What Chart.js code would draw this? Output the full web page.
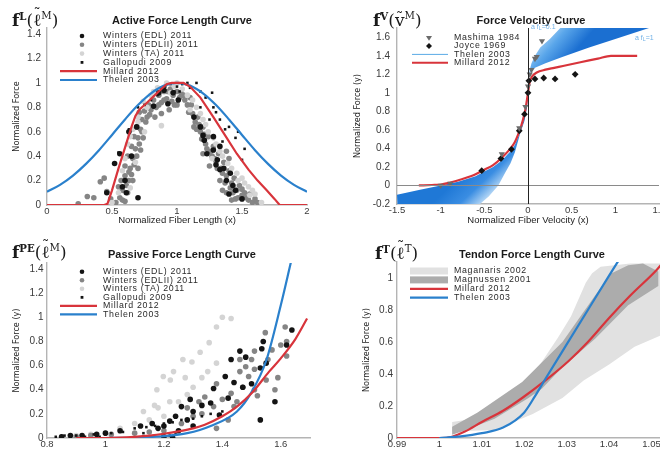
<!DOCTYPE html>
<html>
<head>
<meta charset="utf-8">
<script src="https://cdn.jsdelivr.net/npm/chart.js@4.4.1/dist/chart.umd.min.js"></script>
<style>
  html, body { margin: 0; padding: 0; background: #fff; }
  #fig { position: relative; width: 660px; height: 450px; overflow: hidden; }
  .panel { position: absolute; width: 330px; height: 225px; overflow: hidden; }
  .panel canvas { position: absolute; left: 0; top: 0; }
  .ttl { position: absolute; font: bold 11px 'Liberation Sans', Arial, sans-serif; color: #1a1a1a;
         transform: translate(-50%, -50%); white-space: nowrap; }
  .math { position: absolute; font: 17px 'DejaVu Serif', 'Liberation Serif', serif; color: #1a1a1a;
          transform: translateY(-50%); white-space: nowrap; line-height: 1; }
  .math sup { font-size: 0.6em; vertical-align: 0.6em; line-height: 0; }
  .acc { position: relative; display: inline-block; }
  .acc i { position: absolute; left: 0; right: 0; top: -0.36em; text-align: center; font-style: normal; font-size: 0.85em; }
  .acc.low i { top: -0.1em; }
  .note { position: absolute; font: 7px 'Liberation Sans', Arial, sans-serif; color: #6fb0e6;
          white-space: nowrap; transform: translateY(-50%); }
  .note sub { font-size: 0.75em; vertical-align: -0.2em; }
</style>
</head>
<body>
<div id="fig">
  <div class="panel" style="left:0;top:0"><canvas id="cActive" width="330" height="225"></canvas></div>
  <div class="panel" style="left:330px;top:0"><canvas id="cVelocity" width="360" height="225"></canvas></div>
  <div class="panel" style="left:0;top:225px"><canvas id="cPassive" width="330" height="225"></canvas></div>
  <div class="panel" style="left:330px;top:225px"><canvas id="cTendon" width="360" height="225"></canvas></div>

  <div class="math" style="left:12px;top:20px"><b>f</b><sup><b>L</b></sup>(<span class="acc">&#x2113;<i>&#x2DC;</i></span><sup>M</sup>)</div>
  <div class="ttl" style="left:182px;top:20px">Active Force Length Curve</div>

  <div class="math" style="left:373px;top:20px"><b>f</b><sup><b>V</b></sup>(<span class="acc low">v<i>&#x2DC;</i></span><sup>M</sup>)</div>
  <div class="ttl" style="left:531px;top:20px">Force Velocity Curve</div>
  <div class="note" style="left:531px;top:27px">a f<sub>L</sub>=0.1</div>
  <div class="note" style="left:635px;top:38px">a f<sub>L</sub>=1</div>

  <div class="math" style="left:12px;top:252px"><b>f</b><sup><b>PE</b></sup>(<span class="acc">&#x2113;<i>&#x2DC;</i></span><sup>M</sup>)</div>
  <div class="ttl" style="left:182px;top:254px">Passive Force Length Curve</div>

  <div class="math" style="left:375px;top:253px"><b>f</b><sup><b>T</b></sup>(<span class="acc">&#x2113;<i>&#x2DC;</i></span><sup>T</sup>)</div>
  <div class="ttl" style="left:532px;top:254px">Tendon Force Length Curve</div>
</div>

<script>
// ---------- Active force-length (normalized fiber length, normalized force) ----------
const flXTicks = [0, 0.5, 1, 1.5, 2];
const flYTicks = [0, 0.2, 0.4, 0.6, 0.8, 1, 1.2, 1.4];
const flMillard = [[0,0],[0.44,0],[0.465,0.01],[0.5,0.12],[0.55,0.3],[0.6,0.47],[0.65,0.64],[0.68,0.73],[0.71,0.78],
  [0.76,0.83],[0.82,0.89],[0.88,0.95],[0.92,0.99],[0.96,1],[1.05,1],[1.1,0.97],[1.18,0.88],[1.28,0.72],[1.37,0.57],
  [1.46,0.42],[1.55,0.29],[1.62,0.2],[1.69,0.12],[1.75,0.05],[1.79,0],[2,0]];
const flThelen = [[0,0.108],[0.1,0.165],[0.2,0.241],[0.3,0.337],[0.4,0.449],[0.5,0.574],[0.6,0.701],[0.7,0.819],
  [0.8,0.915],[0.9,0.978],[1,1],[1.1,0.978],[1.2,0.915],[1.3,0.819],[1.4,0.701],[1.5,0.574],[1.6,0.449],[1.7,0.337],
  [1.8,0.241],[1.9,0.165],[2,0.108]];
const flEDL = [[0.46,0.1],[0.52,0.34],[0.56,0.42],[0.6,0.2],[0.61,0.1],[0.63,0.6],[0.65,0.4],[0.69,0.64],[0.7,0.06],
  [0.58,0.15],[0.82,0.81],[0.86,0.92],[0.9,0.94],[0.93,0.83],[0.97,0.92],[1.01,0.86],[1.13,0.72],[1.18,0.64],[1.2,0.57],
  [1.21,0.53],[1.23,0.42],[1.28,0.56],[1.28,0.45],[1.31,0.37],[1.3,0.33],[1.33,0.48],[1.33,0.29],[1.36,0.3],[1.38,0.2],
  [1.41,0.26],[1.43,0.16],[1.45,0.12],[1.4,0.09],[1.5,0.05]];
const flEDLII = [[0.24,0.01],[0.31,0.07],[0.36,0.06],[0.41,0.19],[0.46,0.11],[0.44,0.22],[0.49,0.05],
  [0.53,0.02],[0.56,0.06],[0.6,0.03],[0.58,0.12],[0.62,0.1],[0.57,0.2],[0.6,0.24],[0.63,0.2],[0.6,0.32],[0.64,0.3],
  [0.62,0.4],[0.66,0.38],[0.65,0.48],[0.68,0.46],[0.67,0.56],[0.7,0.55],[0.69,0.64],[0.72,0.62],[0.73,0.7],[0.71,0.76],
  [0.75,0.77],[0.77,0.72],[0.78,0.82],[0.8,0.78],[0.82,0.86],[0.84,0.8],[0.86,0.9],[0.88,0.84],[0.9,0.93],[0.92,0.87],
  [0.95,0.95],[0.97,0.9],[1,0.93],[0.98,0.82],[1.02,0.88],[0.94,0.78],[0.88,0.75],[0.66,0.2],[0.7,0.3],[0.72,0.45],
  [0.74,0.55],[1.05,0.9],[1.08,0.82],[1.1,0.88],[1.12,0.75],[1.14,0.68],[1.16,0.72],[1.18,0.6],[1.2,0.64],[1.22,0.5],
  [1.24,0.56],[1.26,0.44],[1.28,0.48],[1.3,0.36],[1.32,0.42],[1.34,0.3],[1.36,0.35],[1.38,0.24],[1.4,0.28],[1.42,0.18],
  [1.44,0.22],[1.46,0.12],[1.48,0.16],[1.5,0.08],[1.52,0.1],[1.55,0.04],[1.58,0.02],[1.6,0.05],[1.45,0.05],[1.38,0.1],
  [1.33,0.2],[1.25,0.32],[1.2,0.42],[1.38,0.44],[1.4,0.38],[1.35,0.12],[1.42,0.04],
  [0.55,0.15],[0.58,0.04],[0.61,0.16],[0.63,0.27],[0.65,0.25],[0.67,0.33],[0.69,0.4],[0.71,0.5],[0.73,0.6],[0.76,0.68],
  [0.79,0.74],[0.83,0.72],[0.86,0.82],[0.9,0.86],[0.93,0.93],[0.96,0.85],[1,0.82],[1.03,0.92],[1.06,0.86],[1.09,0.76],
  [1.11,0.82],[1.13,0.64],[1.15,0.62],[1.17,0.66],[1.19,0.54],[1.21,0.58],[1.23,0.46],[1.27,0.4],[1.29,0.38],[1.31,0.3],
  [1.35,0.26],[1.37,0.18],[1.41,0.14],[1.43,0.1],[1.47,0.06],[1.5,0.13],[1.53,0.06],[1.56,0.09],[1.62,0.02]];
const flTA = [[0.55,0.1],[0.58,0.28],[0.62,0.5],[0.66,0.62],[0.7,0.72],[0.74,0.85],[0.8,0.9],[0.85,0.96],[0.92,1],
  [0.98,0.97],[1.04,0.95],[1.08,0.9],[1.1,0.78],[1.15,0.8],[1.2,0.7],[1.24,0.6],[1.3,0.5],[1.35,0.4],[1.42,0.3],
  [1.5,0.22],[1.55,0.15],[1.6,0.09],[1.65,0.02],[0.68,0.35],[0.75,0.6],[0.88,0.65],[0.5,0.02],[0.64,0.14],[1.27,0.38],
  [1.47,0.2],[1.56,0.08],[0.6,0.38],[0.64,0.56],[0.7,0.68],[0.77,0.8],[0.82,0.93],[0.95,0.92],[1,1],[1.12,0.86],
  [1.18,0.75],[1.22,0.66],[1.28,0.55],[1.33,0.44],[1.39,0.34],[1.46,0.26],[1.52,0.18],[1.58,0.12]];
const flGallopudi = [[0.85,0.9],[0.88,0.95],[0.91,0.97],[0.95,0.99],[0.98,0.93],[1,0.97],[1.04,0.99],[1.08,1],[1.1,0.96],
  [1.15,1],[1.18,0.93],[1.18,0.8],[1.22,0.88],[1.27,0.92],[1.28,0.8],[1.3,0.76],[1.33,0.7],[1.37,0.62],[1.4,0.64],
  [1.47,0.6],[1.45,0.55],[1.5,0.37],[1.52,0.46],[1.35,0.52],[1.25,0.7],[0.8,0.86],[0.75,0.82],[0.7,0.8],[0.63,0.62],
  [0.55,0.43],[1.02,0.93]];

// ---------- Force-velocity (normalized fiber velocity, normalized force) ----------
const fvXTicks = [-1.5, -1, -0.5, 0, 0.5, 1, 1.5];
const fvYTicks = [-0.2, 0, 0.2, 0.4, 0.6, 0.8, 1, 1.2, 1.4, 1.6];
const fvMillard = [[-1.25,0],[-1.1,0.005],[-1,0.01],[-0.9,0.03],[-0.75,0.07],[-0.6,0.12],[-0.5,0.17],[-0.4,0.22],
  [-0.3,0.3],[-0.2,0.4],[-0.15,0.47],[-0.1,0.58],[-0.06,0.7],[-0.03,0.82],[0,1],[0.02,1.12],[0.05,1.18],[0.1,1.22],
  [0.2,1.25],[0.3,1.27],[0.4,1.29],[0.6,1.33],[0.8,1.37],[0.95,1.4],[1.25,1.4]];
const fvMashima = [[-1,0],[-0.89,0.02],[-0.3,0.34],[-0.1,0.62],[-0.03,0.85],[0,1.07],[0.02,1.2],[0.04,1.25],
  [0.08,1.37],[0.1,1.39],[0.16,1.56]];
const fvJoyce = [[-0.53,0.16],[-0.31,0.29],[-0.19,0.39],[-0.1,0.59],[-0.04,0.77],[0,1],[0.01,1.13],[0.08,1.15],
  [0.18,1.16],[0.31,1.15],[0.54,1.2]];
// Thelen family for a*fL between 0.1 and 1, shortening side (x < 0) and lengthening side (x > 0)
const fvThelenShortening = [[-1.5,-0.1],[-1.25,-0.05],[-1,0],[-0.8,0.04],[-0.6,0.1],[-0.5,0.15],[-0.4,0.2],[-0.3,0.27],
  [-0.2,0.37],[-0.15,0.44],[-0.1,0.55],[-0.06,0.67],[-0.03,0.8],[0,1],[-0.01,0.85],[-0.04,0.7],[-0.09,0.56],
  [-0.15,0.36],[-0.2,0.24],[-0.26,0.14],[-0.34,0],[-0.45,-0.12],[-0.55,-0.2],[-0.7,-0.3],[-1.49,-0.3]];
const fvThelenLengthening = [[0,1.05],[0.01,1.17],[0.03,1.23],[0.08,1.27],[0.2,1.32],[0.4,1.39],[0.7,1.49],[1,1.58],
  [1.45,1.72],[1.6,1.8],[0.45,1.8],[0.37,1.7],[0.25,1.58],[0.14,1.49],[0.08,1.4],[0.04,1.32],[0.02,1.25],[0.005,1.1]];

// ---------- Passive force-length ----------
const pfXTicks = [0.8, 1, 1.2, 1.4, 1.6];
const pfYTicks = [0, 0.2, 0.4, 0.6, 0.8, 1, 1.2, 1.4];
const pfMillard = [[0.9,0],[1,0],[1.05,0.003],[1.1,0.01],[1.15,0.02],[1.2,0.035],[1.25,0.055],[1.3,0.08],[1.34,0.11],
  [1.4,0.18],[1.45,0.26],[1.5,0.37],[1.56,0.55],[1.6,0.66],[1.65,0.82],[1.69,0.99]];
const pfThelen = [[1,0],[1.08,0.002],[1.15,0.008],[1.2,0.015],[1.28,0.04],[1.36,0.1],[1.45,0.22],[1.5,0.38],
  [1.55,0.64],[1.6,1.1],[1.635,1.46]];
const pfEDL = [[1.638,0.895],[1.62,0.77],[1.535,0.74],[1.54,0.8],[1.48,0.67],[1.46,0.72],[1.43,0.65],[1.53,0.58],
  [1.41,0.51],[1.37,0.41],[1.47,0.42],[1.36,0.29],[1.29,0.32],[1.26,0.26],[1.3,0.22],[1.39,0.19],[1.24,0.18],[1.2,0.1],
  [1.22,0.14],[1.28,0.15],[1.16,0.12],[1.12,0.1],[1.05,0.06],[1,0.04],[0.97,0.03],[0.92,0.02],[0.88,0.02],[0.85,0.01],
  [1.18,0.08],[1.25,0.06],[1.3,0.1],[1.2,0.01],[1.23,0],[1.33,0.27],[1.42,0.33],[1.5,0.45],[1.44,0.46],[1.55,0.62],
  [1.53,0.15],[1.58,0.3]];
const pfEDLII = [[1.615,0.92],[1.547,0.873],[1.62,0.8],[1.6,0.77],[1.57,0.73],[1.62,0.68],[1.51,0.72],[1.556,0.65],
  [1.5,0.65],[1.48,0.59],[1.46,0.55],[1.51,0.57],[1.49,0.51],[1.59,0.5],[1.55,0.48],[1.47,0.42],[1.51,0.4],[1.43,0.37],
  [1.4,0.32],[1.44,0.26],[1.37,0.26],[1.33,0.2],[1.3,0.18],[1.26,0.12],[1.34,0.34],[1.38,0.45],[1.46,0.65],[1.38,0.08],
  [1.42,0.15],[1.2,0.06],[1.15,0.05],[1.1,0.04],[0.9,0.01],[0.95,0.02],[1.02,0.03],[1.28,0.25],[1.32,0.3],[1.45,0.3],
  [1.52,0.35],[1.58,0.4]];
const pfTA = [[1.4,1],[1.43,0.99],[1.38,0.92],[1.355,0.79],[1.324,0.71],[1.296,0.63],[1.265,0.65],[1.273,0.5],
  [1.233,0.55],[1.222,0.48],[1.198,0.51],[1.176,0.4],[1.168,0.27],[1.13,0.22],[1.1,0.12],[1.05,0.08],[1,0.04],
  [0.95,0.03],[0.9,0.02],[0.85,0.01],[1.15,0.15],[1.2,0.18],[1.25,0.3],[1.3,0.42],[1.35,0.55],[1.28,0.36],[1.22,0.3],
  [1.18,0.25],[1.38,0.62],[1.33,0.5]];
const pfGallopudi = [[0.83,0.01],[0.86,0.02],[0.9,0.02],[0.93,0.01],[0.96,0.03],[1,0.03],[1.02,0.04],[1.06,0.05],
  [1.1,0.08],[1.14,0.09],[1.17,0.1],[1.2,0.12],[1.23,0.13],[1.26,0.15],[1.3,0.16],[1.33,0.18],[1.36,0.2],[1.4,0.22],
  [1.22,0.02],[1.24,0.03],[1.13,0.04],[0.88,0.01],[0.98,0.01]];

// ---------- Tendon force-length ----------
const tfXTicks = [0.99, 1, 1.01, 1.02, 1.03, 1.04, 1.05];
const tfYTicks = [0, 0.2, 0.4, 0.6, 0.8, 1];
const tfMillard = [[0.99,0],[1,0],[1.003,0.008],[1.006,0.04],[1.01,0.1],[1.015,0.17],[1.0195,0.25],[1.025,0.36],
  [1.0304,0.48],[1.035,0.6],[1.04,0.75],[1.045,0.89],[1.0512,1.05],[1.0525,1.09]];
const tfThelen = [[1,0],[1.005,0.01],[1.01,0.03],[1.015,0.065],[1.02,0.16],[1.0225,0.26],[1.025,0.37],[1.03,0.585],
  [1.035,0.8],[1.04,1.015],[1.0425,1.12]];
const tfMaganaris = [[1.003,0.04],[1.003,0.1],[1.008,0.12],[1.013,0.17],[1.0195,0.33],[1.024,0.47],[1.028,0.63],
  [1.031,0.76],[1.033,0.88],[1.0345,0.97],[1.036,1.03],[1.038,1.07],[1.045,1.09],[1.053,1.09],[1.053,0.65],
  [1.046,0.57],[1.04,0.46],[1.034,0.36],[1.029,0.25],[1.022,0.15],[1.013,0.05]];
const tfMagnussen = [[1.003,0.02],[1.003,0.07],[1.009,0.16],[1.0195,0.35],[1.029,0.6],[1.0367,0.89],[1.0406,1.03],
  [1.0445,1.08],[1.048,1.09],[1.0516,1.04],[1.0516,0.95],[1.0445,0.83],[1.0367,0.62],[1.0289,0.44],[1.0242,0.31],
  [1.021,0.25],[1.013,0.12],[1.0053,0.04]];

// ---------- styling ----------
const FONT = "'Liberation Sans', Arial, sans-serif";
const NARROW = "'Liberation Sans Narrow', 'DejaVu Sans Condensed', sans-serif";
const RED = '#d8343b';
const BLUE = '#2a80cc';
const AXIS = '#b4b4b4';
const TICK = '#3a3a3a';
Chart.defaults.font.family = FONT;

const pts = arr => arr.map(([x, y]) => ({ x, y }));

function scatter(label, arr, color, style, radius, legendRadius, order, extra = {}) {
  return Object.assign({
    label, data: pts(arr), showLine: false, order,
    pointStyle: style, pointRadius: radius, pointBorderWidth: 0,
    pointBackgroundColor: color, pointBorderColor: color,
    backgroundColor: color, borderColor: color,
    legendKind: 'point', legendRadius
  }, extra);
}
function curve(label, arr, color, order, smooth) {
  return {
    label, data: pts(arr), showLine: true, order, fill: false,
    borderColor: color, backgroundColor: color, borderWidth: 2.2, pointRadius: 0,
    cubicInterpolationMode: smooth ? 'monotone' : 'default', tension: 0,
    legendKind: 'line'
  };
}
function band(label, arr, fillColor, legendColor, order, legendKind) {
  return {
    label, data: pts(arr), showLine: true, order, fill: 'shape',
    backgroundColor: fillColor, borderColor: 'rgba(0,0,0,0)', borderWidth: 1, pointRadius: 0, tension: 0,
    legendKind, legendColor
  };
}
// gradient anchored to data coordinates through the chart's scales
function dataGradient(from, to, stops) {
  return (c) => {
    const chart = c.chart, xs = chart.scales.x, ys = chart.scales.y;
    const fallback = stops[Math.floor(stops.length / 2)][1];
    if (!chart.chartArea || !xs || !ys) return fallback;
    const p = [xs.getPixelForValue(from[0]), ys.getPixelForValue(from[1]),
               xs.getPixelForValue(to[0]), ys.getPixelForValue(to[1])];
    if (!p.every(Number.isFinite)) return fallback;
    const g = chart.ctx.createLinearGradient(p[0], p[1], p[2], p[3]);
    stops.forEach(([o, col]) => g.addColorStop(o, col));
    return g;
  };
}

function makeScales(o) {
  return {
    x: {
      type: 'linear', min: o.xMin, max: o.xMax,
      afterFit: s => { s.height = o.xHeight; },
      afterBuildTicks: s => { s.ticks = o.xTicks.map(v => ({ value: v })); },
      grid: { display: false, drawTicks: false },
      border: { display: true, color: AXIS, width: 1.4 },
      ticks: { font: { family: FONT, size: 9.5 }, color: TICK, padding: o.xTickPad, maxRotation: 0, autoSkip: false,
               callback: v => String(v) },
      title: o.xTitle
        ? { display: true, text: o.xTitle, font: { family: FONT, size: 9.5 }, color: '#222', padding: { top: 0, bottom: -1.5 } }
        : { display: false }
    },
    y: {
      type: 'linear', min: o.yMin, max: o.yMax,
      afterFit: s => { s.width = o.yWidth; },
      afterBuildTicks: s => { s.ticks = o.yTicks.map(v => ({ value: v })); },
      grid: { display: false, drawTicks: false },
      border: { display: true, color: AXIS, width: 1.4 },
      ticks: { font: { family: FONT, size: 10 }, color: TICK, padding: o.yTickPad, autoSkip: false,
               callback: v => String(v) },
      title: { display: true, text: o.yTitle, font: { family: NARROW, size: 9 }, color: '#222',
               padding: { top: o.yTitlePad, bottom: 0 } }
    }
  };
}

function drawMarker(ctx, style, x, y, r, rot) {
  ctx.beginPath();
  if (style === 'rect') {
    ctx.rect(x - r, y - r, 2 * r, 2 * r);
  } else if (style === 'rectRot') {
    ctx.moveTo(x, y - r); ctx.lineTo(x + r, y); ctx.lineTo(x, y + r); ctx.lineTo(x - r, y); ctx.closePath();
  } else if (style === 'triangle') {
    const s = rot ? -1 : 1;
    ctx.moveTo(x - r, y + s * 0.6 * r); ctx.lineTo(x + r, y + s * 0.6 * r); ctx.lineTo(x, y - s * r); ctx.closePath();
  } else {
    ctx.arc(x, y, r, 0, Math.PI * 2);
  }
  ctx.fill();
}

// legend drawn inside the plotting area
const insetLegend = {
  id: 'insetLegend',
  afterDraw(chart, args, o) {
    const ctx = chart.ctx;
    ctx.save();
    ctx.font = o.fontSize + 'px ' + FONT;
    ctx.textBaseline = 'middle';
    if ('letterSpacing' in ctx) ctx.letterSpacing = o.spacing + 'px';
    let row = 0;
    chart.data.datasets.forEach(ds => {
      if (!ds.label) return;
      const y = o.y + row * o.gap;
      row++;
      if (ds.legendKind === 'line') {
        ctx.strokeStyle = ds.legendColor || ds.borderColor;
        ctx.lineWidth = ds.borderWidth || 2;
        ctx.beginPath(); ctx.moveTo(o.lineX0, y); ctx.lineTo(o.lineX1, y); ctx.stroke();
      } else if (ds.legendKind === 'patch') {
        ctx.fillStyle = ds.legendColor;
        ctx.fillRect(o.lineX0, y - o.patchH / 2, o.lineX1 - o.lineX0, o.patchH);
      } else {
        ctx.fillStyle = ds.pointBackgroundColor;
        drawMarker(ctx, ds.pointStyle, o.markerX, y, ds.legendRadius, ds.pointRotation);
      }
      ctx.fillStyle = o.color;
      ctx.fillText(ds.label, o.textX, y);
    });
    ctx.restore();
  }
};

// reference lines through the origin of the velocity plot
const zeroLines = {
  id: 'zeroLines',
  afterDatasetsDraw(chart, args, o) {
    if (!o || !o.enabled) return;
    const { ctx, chartArea: a, scales: { x, y } } = chart;
    ctx.save();
    ctx.lineWidth = 1;
    const py = Math.round(y.getPixelForValue(0)) + 0.5;
    ctx.strokeStyle = o.hColor;
    ctx.beginPath(); ctx.moveTo(a.left, py); ctx.lineTo(a.right, py); ctx.stroke();
    const px = Math.round(x.getPixelForValue(0)) + 0.5;
    ctx.strokeStyle = o.vColor;
    ctx.beginPath(); ctx.moveTo(px, a.top); ctx.lineTo(px, a.bottom); ctx.stroke();
    ctx.restore();
  }
};

function makeChart(id, datasets, scales, padding, legend, zero) {
  return new Chart(document.getElementById(id), {
    type: 'line',
    data: { datasets },
    options: {
      responsive: false, animation: false, events: [],
      layout: { padding },
      scales: makeScales(scales),
      plugins: {
        legend: { display: false }, tooltip: { enabled: false }, title: { display: false },
        insetLegend: legend, zeroLines: zero || { enabled: false }
      }
    },
    plugins: [insetLegend, zeroLines]
  });
}

const GRAY_DARK = '#858585', GRAY_LIGHT = '#d4d4d4', BLACK = '#141414';
const LEG = { fontSize: 8.8, spacing: 0.7, patchH: 7, color: '#2a2a2a' };

// Active force-length
makeChart('cActive', [
  scatter('Winters (EDL) 2011', flEDL, BLACK, 'circle', 2.8, 2.3, 3),
  scatter('Winters (EDLII) 2011', flEDLII, GRAY_DARK, 'circle', 2.8, 2.3, 5),
  scatter('Winters (TA) 2011', flTA, GRAY_LIGHT, 'circle', 2.8, 2.3, 4),
  scatter('Gallopudi 2009', flGallopudi, BLACK, 'rect', 1.8, 1.4, 2),
  curve('Millard 2012', flMillard, RED, 0, false),
  curve('Thelen 2003', flThelen, BLUE, 1, true)
], {
  xMin: 0, xMax: 2, xTicks: flXTicks, yMin: 0, yMax: 1.45, yTicks: flYTicks,
  yWidth: 47, xHeight: 20, yTitle: 'Normalized Force', yTitlePad: 11.5, yTickPad: 6,
  xTitle: 'Normalized Fiber Length (x)', xTickPad: 0.5
}, { top: 28, right: 23, left: 0, bottom: 0 },
Object.assign({ y: 36, gap: 8.8, textX: 103, markerX: 82, lineX0: 60, lineX1: 97 }, LEG));

// Force-velocity
makeChart('cVelocity', [
  scatter('Mashima 1984', fvMashima, '#6b6b6b', 'triangle', 3.6, 3, 0, { pointRotation: 180 }),
  scatter('Joyce 1969', fvJoyce, BLACK, 'rectRot', 3.4, 3, 0),
  band('Thelen 2003', fvThelenShortening,
       dataGradient([-0.6, 0.25], [-0.3, -0.05], [[0, '#1f78d6'], [0.5, '#3a8de2'], [1, '#d6ebfb']]),
       '#5aaae6', 3, 'line'),
  curve('Millard 2012', fvMillard, RED, 1, true),
  band(undefined, fvThelenLengthening,
       dataGradient([0.12, 1.62], [0.45, 1.35], [[0, '#b5dbf8'], [0.45, '#5aa6ea'], [1, '#1b6fd1']]),
       '#5aaae6', 3, 'patch')
], {
  xMin: -1.5, xMax: 1.5, xTicks: fvXTicks, yMin: -0.2, yMax: 1.7, yTicks: fvYTicks,
  yWidth: 67, xHeight: 21, yTitle: 'Normalized Force (y)', yTitlePad: 22.5, yTickPad: 7,
  xTitle: 'Normalized Fiber Velocity (x)', xTickPad: 1
}, { top: 28, right: 31, left: 0, bottom: 0 },
Object.assign({ y: 37.7, gap: 8.35, textX: 124, markerX: 99, lineX0: 82, lineX1: 118 }, LEG),
{ enabled: true, hColor: '#8a8a8a', vColor: '#222222' });

// Passive force-length
makeChart('cPassive', [
  scatter('Winters (EDL) 2011', pfEDL, BLACK, 'circle', 2.8, 2.3, 3),
  scatter('Winters (EDLII) 2011', pfEDLII, GRAY_DARK, 'circle', 2.8, 2.3, 4),
  scatter('Winters (TA) 2011', pfTA, GRAY_LIGHT, 'circle', 2.8, 2.3, 5),
  scatter('Gallopudi 2009', pfGallopudi, BLACK, 'rect', 1.8, 1.4, 2),
  curve('Millard 2012', pfMillard, RED, 0, true),
  curve('Thelen 2003', pfThelen, BLUE, 1, true)
], {
  xMin: 0.8, xMax: 1.7, xTicks: pfXTicks, yMin: 0, yMax: 1.45, yTicks: pfYTicks,
  yWidth: 47, xHeight: 12, yTitle: 'Normalized Force (y)', yTitlePad: 11.5, yTickPad: 3.5,
  xTitle: null, xTickPad: 1
}, { top: 38, right: 20, left: 0, bottom: 0 },
Object.assign({ y: 46.7, gap: 8.55, textX: 103, markerX: 82, lineX0: 60, lineX1: 97 }, LEG));

// Tendon force-length
makeChart('cTendon', [
  band('Maganaris 2002', tfMaganaris, '#e1e1e1', '#e1e1e1', 3, 'patch'),
  band('Magnussen 2001', tfMagnussen, '#acacac', '#acacac', 2, 'patch'),
  curve('Millard 2012', tfMillard, RED, 1, true),
  curve('Thelen 2003', tfThelen, BLUE, 0, true)
], {
  xMin: 0.99, xMax: 1.052, xTicks: tfXTicks, yMin: 0, yMax: 1.1, yTicks: tfYTicks,
  yWidth: 67, xHeight: 12, yTitle: 'Normalized Force (y)', yTitlePad: 31.5, yTickPad: 4,
  xTitle: null, xTickPad: 1
}, { top: 37, right: 30, left: 0, bottom: 0 },
Object.assign({ y: 46, gap: 8.9, textX: 124, markerX: 99, lineX0: 80, lineX1: 118 }, LEG));
</script>
</body>
</html>
